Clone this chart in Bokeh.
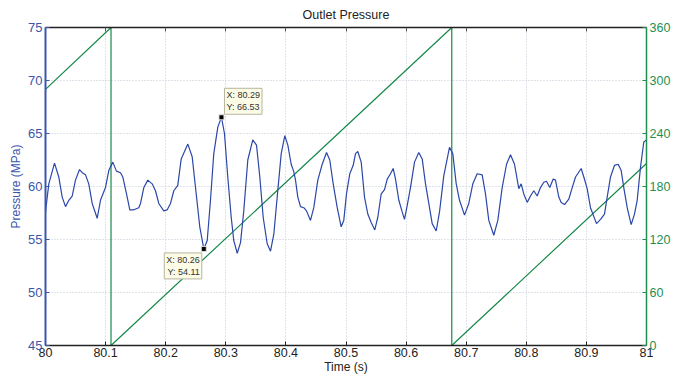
from bokeh.plotting import figure
from bokeh.models import LinearAxis, Range1d, FixedTicker, Label
from bokeh.embed import file_html
from bokeh.resources import INLINE

# ---- data ----
time_s = [
    80.0000, 80.0055, 80.0150, 80.0221, 80.0278, 80.0333, 80.0388, 80.0444, 80.0499, 80.0566,
    80.0611, 80.0666, 80.0720, 80.0777, 80.0860, 80.0915, 80.0998, 80.1053, 80.1120, 80.1181,
    80.1248, 80.1286, 80.1348, 80.1403, 80.1469, 80.1552,
    80.1581, 80.1636, 80.1702, 80.1775, 80.1830, 80.1885, 80.1968, 80.2025, 80.2080, 80.2135,
    80.2201, 80.2258, 80.2368, 80.2441, 80.2496, 80.2567, 80.2634, 80.2691, 80.2745, 80.2800,
    80.2867, 80.2928, 80.2978, 80.3033, 80.3090, 80.3133, 80.3190,
    80.3245, 80.3299, 80.3366, 80.3449, 80.3511, 80.3566, 80.3622, 80.3689, 80.3744, 80.3799,
    80.3855, 80.3922, 80.3982, 80.4032, 80.4088, 80.4131, 80.4160, 80.4198, 80.4243, 80.4298,
    80.4343, 80.4409, 80.4464, 80.4531, 80.4604, 80.4676, 80.4730, 80.4787, 80.4854, 80.4920,
    80.4963, 80.5008, 80.5063, 80.5120, 80.5158, 80.5196, 80.5253, 80.5308, 80.5363, 80.5419,
    80.5479, 80.5529, 80.5586, 80.5641, 80.5686, 80.5740, 80.5785, 80.5824, 80.5879, 80.5935,
    80.5973, 80.6018, 80.6073, 80.6140, 80.6211, 80.6268, 80.6323, 80.6378, 80.6434, 80.6501,
    80.6556,
    80.6627, 80.6722, 80.6777, 80.6834, 80.6889, 80.6972, 80.7043, 80.7110, 80.7183, 80.7266,
    80.7321, 80.7376, 80.7459, 80.7526, 80.7599, 80.7671, 80.7737, 80.7804, 80.7875, 80.7915,
    80.7958, 80.8015, 80.8070, 80.8125, 80.8181, 80.8236, 80.8291,
    80.8336, 80.8391, 80.8448, 80.8486, 80.8541, 80.8581, 80.8636, 80.8707, 80.8764, 80.8819,
    80.8913, 80.8957, 80.9013, 80.9068, 80.9168, 80.9235, 80.9301, 80.9346, 80.9401, 80.9468,
    80.9529, 80.9579, 80.9622, 80.9679, 80.9745, 80.9800, 80.9845, 80.9900, 80.9955, 81.0000,
]
pressure_mpa = [
    57.6, 60.25, 62.2, 60.9, 59.0, 58.1, 58.7, 59.1, 60.6, 61.6,
    61.3, 61.1, 60.25, 58.4, 57.0, 58.7, 59.9, 61.5, 62.3, 61.45,
    61.3, 60.9, 59.3, 57.8, 57.8, 58.0,
    58.4, 59.9, 60.6, 60.25, 59.6, 58.4, 57.7, 57.8, 58.4, 59.6,
    60.1, 62.6, 64.0, 62.8, 59.9, 56.2, 54.11, 54.9, 58.7, 63.1,
    65.6, 66.53, 65.0, 60.9, 57.1, 54.9, 53.7,
    54.7, 57.7, 62.5, 64.4, 63.9, 60.9, 57.1, 54.6, 53.9, 55.5,
    59.0, 63.1, 64.8, 63.9, 62.1, 61.4, 60.6, 59.0, 58.1, 58.0,
    57.7, 56.8, 58.0, 60.6, 62.1, 63.2, 62.5, 60.25, 58.0, 56.2,
    56.8, 59.3, 61.2, 62.0, 63.1, 63.3, 62.3, 59.0, 57.4, 56.6,
    55.9, 57.1, 59.3, 59.7, 60.7, 61.2, 61.7, 60.7, 58.7, 57.6,
    56.9, 58.2, 59.9, 62.3, 63.2, 62.6, 60.25, 58.4, 56.5, 55.8,
    57.6,
    61.0, 63.7, 63.1, 60.25, 58.7, 57.3, 58.4, 60.25, 61.2, 61.1,
    59.3, 56.8, 55.4, 56.8, 59.9, 62.1, 63.0, 62.1, 59.8, 60.25,
    59.3, 58.5, 59.1, 59.6, 59.1, 59.9, 60.4,
    60.5, 59.9, 60.7, 60.6, 59.0, 58.5, 58.3, 58.8, 59.9, 60.9,
    61.7, 60.9, 59.8, 58.0, 56.5, 56.9, 57.4, 59.0, 60.9, 62.0,
    62.1, 61.5, 59.9, 58.0, 56.4, 57.4, 58.7, 61.8, 64.2, 64.4,
]
assert len(time_s) == len(pressure_mpa)

phase_t = [80.0, 80.109, 80.109, 80.676, 80.676, 81.0]
phase_deg = [290, 360, 0, 360, 0, 206]

tip_t = [80.2634, 80.2928]
tip_p = [54.11, 66.53]

x_ticks = [80.0, 80.1, 80.2, 80.3, 80.4, 80.5, 80.6, 80.7, 80.8, 80.9, 81.0]
x_tick_labels = ["80", "80.1", "80.2", "80.3", "80.4", "80.5", "80.6", "80.7", "80.8", "80.9", "81"]
y_ticks = [45, 50, 55, 60, 65, 70, 75]
phase_ticks = [0, 60, 120, 180, 240, 300, 360]

# ---- styles ----
FONT = "Liberation Sans"
BLUE_LINE = "#2b47a8"
BLUE_AX = "#3a56ab"
GREEN_LINE = "#16894a"
GREEN_AX = "#1f8f50"
GRID = "#c3c7d6"

p = figure(width=687, height=376, x_range=Range1d(80, 81), y_range=Range1d(45, 75),
           output_backend="svg", toolbar_location=None,
           min_border_left=45, min_border_right=41, min_border_top=27, min_border_bottom=31,
           title="Outlet Pressure")
p.extra_y_ranges = {"phase": Range1d(0, 360)}
p.outline_line_color = None
p.background_fill_color = "white"
p.border_fill_color = "white"

p.title.align = "center"
p.title.vertical_align = "top"
p.title.text_font = FONT
p.title.text_font_size = "12.5px"
p.title.text_font_style = "normal"
p.title.text_color = "#222222"
p.title.standoff = 8
p.title.offset = 0

# grids
p.xgrid.ticker = FixedTicker(ticks=x_ticks)
p.ygrid.ticker = FixedTicker(ticks=y_ticks)
for g in (p.xgrid, p.ygrid):
    g.grid_line_color = GRID
    g.grid_line_dash = "1 2"
    g.grid_line_width = 1

# bottom axis
xa = p.xaxis[0]
xa.ticker = FixedTicker(ticks=x_ticks)
xa.major_label_overrides = {t: s for t, s in zip(x_ticks, x_tick_labels)}
xa.axis_label = "Time (s)"
xa.axis_label_text_font = FONT
xa.axis_label_text_font_size = "12px"
xa.axis_label_text_font_style = "normal"
xa.axis_label_text_color = "#222222"
xa.axis_label_standoff = 0
xa.major_label_text_font = FONT
xa.major_label_text_font_size = "12.5px"
xa.major_label_text_color = "#222222"
xa.major_label_standoff = 2
xa.major_tick_in = 4
xa.major_tick_out = 0
xa.minor_tick_line_color = None
xa.axis_line_color = "#222222"
xa.axis_line_width = 1.5
xa.major_tick_line_color = "#222222"

# left axis
ya = p.yaxis[0]
ya.ticker = FixedTicker(ticks=y_ticks)
ya.axis_label = "Pressure (MPa)"
ya.axis_label_text_font = FONT
ya.axis_label_text_font_size = "12px"
ya.axis_label_text_font_style = "normal"
ya.axis_label_text_color = BLUE_AX
ya.axis_label_standoff = 2
ya.major_label_text_font = FONT
ya.major_label_text_font_size = "13px"
ya.major_label_text_color = BLUE_AX
ya.major_label_standoff = 3
ya.major_tick_in = 4
ya.major_tick_out = 0
ya.minor_tick_line_color = None
ya.axis_line_color = BLUE_AX
ya.axis_line_width = 2
ya.major_tick_line_color = BLUE_AX

# top box edge with ticks (no labels)
top = LinearAxis(ticker=FixedTicker(ticks=x_ticks), major_label_text_font_size="1px",
                 major_label_text_color=None,
                 major_label_standoff=0, major_tick_in=4, major_tick_out=0,
                 minor_tick_line_color=None, axis_line_color="#222222",
                 major_tick_line_color="#555555", axis_line_width=1.5)
p.add_layout(top, "above")

# right axis (phase)
ra = LinearAxis(y_range_name="phase", ticker=FixedTicker(ticks=phase_ticks),
                major_label_text_font=FONT, major_label_text_font_size="12.5px",
                major_label_text_color=GREEN_AX, major_label_standoff=3,
                major_tick_in=4, major_tick_out=0, minor_tick_line_color=None,
                axis_line_color=GREEN_AX, axis_line_width=1.5,
                major_tick_line_color=GREEN_AX)
p.add_layout(ra, "right")

# series
p.line(phase_t, phase_deg, y_range_name="phase", line_color=GREEN_LINE, line_width=1.2)
p.line(time_s, pressure_mpa, line_color=BLUE_LINE, line_width=1.2)

# data tips
p.scatter(tip_t, tip_p, marker="square", size=5, fill_color="black", line_color="#dddddd", line_width=1)
tip_cfg = [
    dict(text_align="right", text_baseline="top", x_offset=-2, y_offset=-4),
    dict(text_align="left", text_baseline="bottom", x_offset=3, y_offset=3),
]
for t, v, cfg in zip(tip_t, tip_p, tip_cfg):
    p.add_layout(Label(x=t, y=v, text=f"X: {t:.2f}\nY: {v:.2f}",
                       text_font=FONT, text_font_size="9px", text_color="#333333",
                       background_fill_color="#fbfbe6", background_fill_alpha=1.0,
                       border_line_color="#b5b5a0", border_line_width=1,
                       padding=2, **cfg))

open("out.html", "w").write(file_html(p, INLINE))
